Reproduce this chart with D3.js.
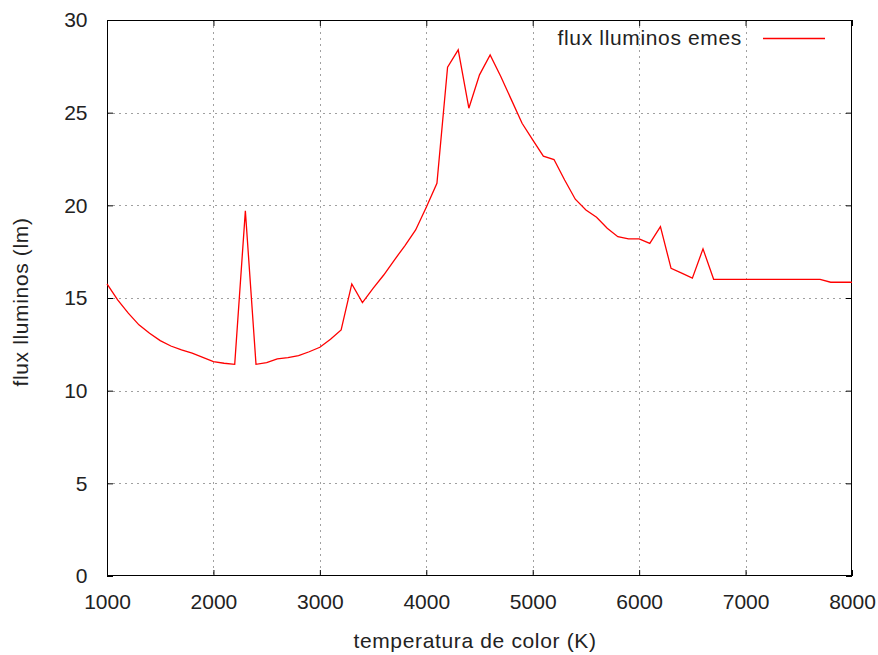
<!DOCTYPE html>
<html>
<head>
<meta charset="utf-8">
<script src="https://cdn.jsdelivr.net/npm/d3@7"></script>
<style>
  html, body { margin: 0; padding: 0; background: #fff; }
  svg text { font-family: "Liberation Sans", Arial, sans-serif; fill: #222; }
</style>
</head>
<body>
<svg id="chart" width="878" height="655"></svg>
<script>
// Colour temperature (K) and emitted luminous flux (lm)
const temperatures = [
  1000, 1100, 1200, 1300, 1400, 1500, 1600, 1700, 1800, 1900,
  2000, 2100, 2200, 2300, 2400, 2500, 2600, 2700, 2800, 2900,
  3000, 3100, 3200, 3300, 3400, 3500, 3600, 3700, 3800, 3900,
  4000, 4100, 4200, 4300, 4400, 4500, 4600, 4700, 4800, 4900,
  5000, 5100, 5200, 5300, 5400, 5500, 5600, 5700, 5800, 5900,
  6000, 6100, 6200, 6300, 6400, 6500, 6600, 6700, 6800, 6900,
  7000, 7100, 7200, 7300, 7400, 7500, 7600, 7700, 7800, 7900, 8000
];
const fluxValues = [
  15.76, 14.9, 14.18, 13.55, 13.1, 12.7, 12.41, 12.2, 12.02, 11.8,
  11.57, 11.48, 11.42, 19.7, 11.42, 11.51, 11.71, 11.78, 11.89, 12.1,
  12.34, 12.77, 13.28, 15.76, 14.75, 15.52, 16.24, 17.05, 17.83, 18.67,
  19.9, 21.19, 27.45, 28.39, 25.24, 27.04, 28.12, 26.95, 25.69, 24.43,
  23.53, 22.65, 22.47, 21.37, 20.33, 19.75, 19.36, 18.76, 18.31, 18.19,
  18.19, 17.95, 18.85, 16.6, 16.34, 16.07, 17.65, 16.01, 16.01, 16.01,
  16.01, 16.01, 16.01, 16.01, 16.01, 16.01, 16.01, 16.01, 15.85, 15.85, 15.85
];
const xTicks = [1000, 2000, 3000, 4000, 5000, 6000, 7000, 8000];
const yTicks = [0, 5, 10, 15, 20, 25, 30];
const seriesName = "flux lluminos emes";
const xTitle = "temperatura de color (K)";
const yTitle = "flux lluminos (lm)";

const svg = d3.select("#chart");
const plot = { left: 107, right: 852, top: 20, bottom: 576 };
const fontSize = 21;
const wordSpacing = "0.65px";

const x = d3.scaleLinear().domain([1000, 8000]).range([plot.left, plot.right]);
const y = d3.scaleLinear().domain([0, 30]).range([plot.bottom, plot.top]);

// Dotted grid
const grid = svg.append("g").attr("stroke", "#a0a0a0").attr("stroke-width", 1)
  .attr("stroke-dasharray", "2,4").attr("shape-rendering", "crispEdges");
grid.selectAll(".gx").data(xTicks.slice(1, -1)).join("line")
  .attr("x1", d => Math.round(x(d)) + 0.5).attr("x2", d => Math.round(x(d)) + 0.5)
  .attr("y1", plot.top).attr("y2", plot.bottom);
grid.selectAll(".gy").data(yTicks.slice(1, -1)).join("line")
  .attr("y1", d => Math.round(y(d)) + 0.5).attr("y2", d => Math.round(y(d)) + 0.5)
  .attr("x1", plot.left).attr("x2", plot.right);

// Axes with inward ticks, mirrored on the opposite side
const tickLen = 6;
const axisStyle = g => {
  g.select(".domain").remove();
  g.selectAll(".tick line").attr("stroke", "#000");
  g.selectAll(".tick text").attr("font-size", fontSize)
    .attr("font-family", "'Liberation Sans', Arial, sans-serif").attr("fill", "#222");
};
svg.append("g").attr("transform", `translate(0,${plot.bottom})`)
  .call(d3.axisBottom(x).tickValues(xTicks).tickFormat(d3.format("d"))
    .tickSizeInner(-tickLen).tickSizeOuter(0).tickPadding(18))
  .call(axisStyle);
svg.append("g").attr("transform", `translate(0,${plot.top})`)
  .call(d3.axisTop(x).tickValues(xTicks).tickFormat("")
    .tickSizeInner(-tickLen).tickSizeOuter(0))
  .call(axisStyle);
svg.append("g").attr("transform", `translate(${plot.left},0)`)
  .call(d3.axisLeft(y).tickValues(yTicks).tickFormat(d3.format("d"))
    .tickSizeInner(-tickLen).tickSizeOuter(0).tickPadding(19.5))
  .call(axisStyle);
svg.append("g").attr("transform", `translate(${plot.right},0)`)
  .call(d3.axisRight(y).tickValues(yTicks).tickFormat("")
    .tickSizeInner(-tickLen).tickSizeOuter(0))
  .call(axisStyle);

// Border
svg.append("rect")
  .attr("x", plot.left + 0.5).attr("y", plot.top + 0.5)
  .attr("width", plot.right - plot.left - 1).attr("height", plot.bottom - plot.top - 1)
  .attr("fill", "none").attr("stroke", "#000").attr("stroke-width", 1);

// Data line
const points = temperatures.map((t, i) => [t, fluxValues[i]]);
svg.append("path").datum(points)
  .attr("fill", "none").attr("stroke", "#ff0000").attr("stroke-width", 1.3)
  .attr("stroke-linejoin", "miter")
  .attr("d", d3.line().x(d => x(d[0])).y(d => y(d[1])));

// Legend
svg.append("text").attr("x", 742).attr("y", 38).attr("dy", "0.35em")
  .attr("text-anchor", "end").attr("font-size", fontSize)
  .attr("letter-spacing", wordSpacing).text(seriesName);
svg.append("line").attr("x1", 763).attr("x2", 825).attr("y1", 38.5).attr("y2", 38.5)
  .attr("stroke", "#ff0000").attr("stroke-width", 1.3);

// Axis titles
svg.append("text").attr("x", 475).attr("y", 641).attr("dy", "0.35em")
  .attr("text-anchor", "middle").attr("font-size", fontSize)
  .attr("letter-spacing", wordSpacing).text(xTitle);
svg.append("text").attr("transform", "translate(21,302) rotate(-90)").attr("dy", "0.35em")
  .attr("text-anchor", "middle").attr("font-size", fontSize)
  .attr("letter-spacing", wordSpacing).text(yTitle);
</script>
</body>
</html>
